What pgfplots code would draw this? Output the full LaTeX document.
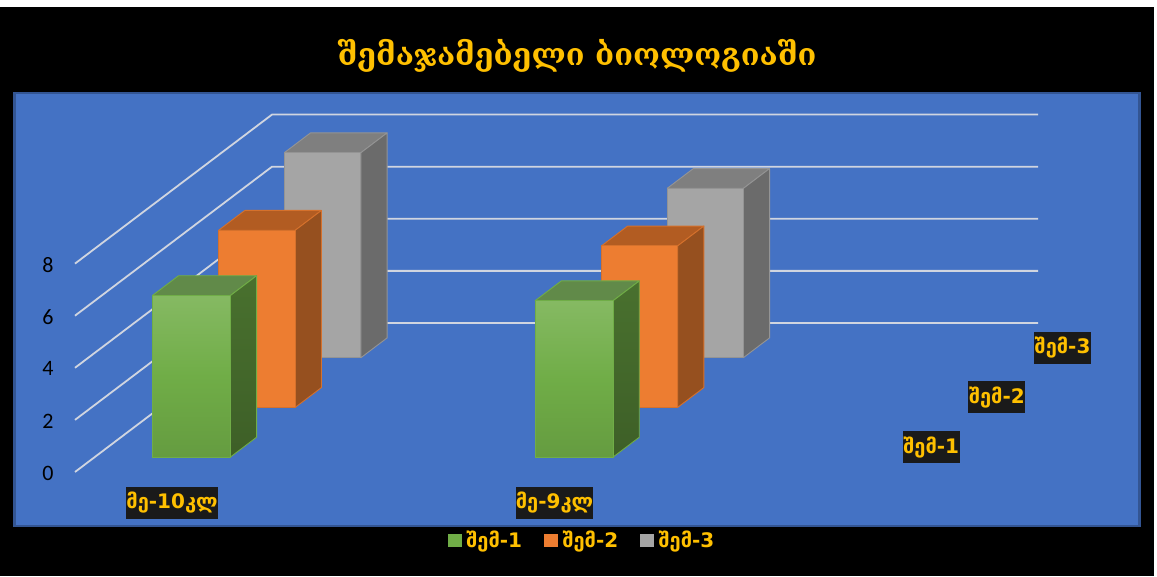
\documentclass[border=0pt]{standalone}
\usepackage{fontspec}
\usepackage{pgfplots}
\pgfplotsset{compat=1.18}
\setmainfont{Carlito}
\newfontfamily\geo{DejaVu Sans}[Script=Georgian]
\newfontfamily\geotitle{DejaVu Serif}[Script=Georgian]
\definecolor{plotblue}{HTML}{4472C4}
\definecolor{plotedge}{HTML}{335593}
\definecolor{labelgold}{HTML}{FFC000}
\definecolor{labelbox}{HTML}{1A1A1A}
\definecolor{gridgrey}{HTML}{D0D5E0}
\definecolor{greyfront}{HTML}{A5A5A5}
\definecolor{greyside}{HTML}{6B6B6B}
\definecolor{greytop}{HTML}{7F7F7F}
\definecolor{orangefront}{HTML}{ED7D31}
\definecolor{orangeside}{HTML}{96501F}
\definecolor{orangetop}{HTML}{B25C22}
\definecolor{greenedge}{HTML}{70AD47}
\definecolor{greentop}{HTML}{618A49}

% One column: top, side and front faces of a box over [xa,xb] x [ya,yb] x [0,v].
\newcommand{\column}[9]{%
  \addplot3[forget plot,mark=none,draw=#9,line width=0.9pt,line join=round,#8]
    coordinates {(#1,#3,#5) (#2,#3,#5) (#2,#4,#5) (#1,#4,#5) (#1,#3,#5)};
  \addplot3[forget plot,mark=none,draw=#9,line width=0.9pt,line join=round,#7]
    coordinates {(#2,#3,0) (#2,#4,0) (#2,#4,#5) (#2,#3,#5) (#2,#3,0)};
  \addplot3[forget plot,mark=none,draw=#9,line width=0.9pt,line join=round,#6]
    coordinates {(#1,#3,0) (#2,#3,0) (#2,#3,#5) (#1,#3,#5) (#1,#3,0)};
}
\newcommand{\gridline}[1]{%
  \addplot3[forget plot,mark=none,draw=gridgrey,line width=1.8pt]
    coordinates {(0,0,#1) (0,3,#1) (2,3,#1)};
}

\begin{document}
\begin{tikzpicture}
\fill[white] (0pt,0pt) rectangle (1157pt,576pt);
\fill[black] (0pt,0pt) rectangle (1154pt,569pt);
\fill[plotblue,draw=plotedge,line width=2.4pt] (14.5pt,50pt) rectangle (1139.5pt,483pt);
\node[text=labelgold,font=\geotitle\bfseries\fontsize{30.6}{34}\selectfont,inner sep=0pt]
  at (577pt,520pt) {შემაჯამებელი ბიოლოგიაში};
\begin{axis}[
  at={(75pt,104pt)},anchor=origin,
  x={(383pt,0pt)},y={(65.67pt,49.67pt)},z={(0pt,26.05pt)},
  xmin=0,xmax=2,ymin=0,ymax=3,zmin=0,zmax=8,
  clip=false,
  axis line style={draw=none},
  major tick length=0pt,
  tick style={draw=none},
  xtick={0.2533,1.2520},
  xticklabels={მე-10კლ,მე-9კლ},
  ytick={0.5,1.5,2.5},
  yticklabels={შემ-1,შემ-2,შემ-3},
  ztick={0,2,4,6,8},
  /pgf/number format/assume math mode=true,
  x tick label style={anchor=center,yshift=-31pt,text=labelgold,fill=labelbox,
    font=\geo\bfseries\fontsize{20}{22}\selectfont,inner sep=0pt,minimum height=32pt},
  y tick label style={anchor=center,xshift=57.4pt,text=labelgold,fill=labelbox,
    font=\geo\bfseries\fontsize{20}{22}\selectfont,inner sep=0pt,minimum height=32pt,minimum width=57pt},
  z tick label style={anchor=center,xshift=-27pt,yshift=-1pt,font=\fontsize{22}{24}\selectfont,text=black},
  legend columns=3,
  legend style={at={(axis cs:1.323,0,-2.61)},anchor=center,draw=none,fill=none,
    font=\geo\bfseries\fontsize{20}{22}\selectfont,text=labelgold,
    /tikz/every even column/.append style={column sep=19pt}},
  legend image code/.code={\fill[#1] (0pt,-7pt) rectangle (15pt,7pt);\path (17pt,0pt);},
]
% horizontal guides on the side and back walls
\gridline{0}\gridline{2}\gridline{4}\gridline{6}\gridline{8}

% third series, furthest back
\column{0.1520}{0.3520}{2.3}{2.7}{7.87}{fill=greyfront}{fill=greyside}{fill=greytop}{greyfront!90!black}
\column{1.1515}{1.3505}{2.3}{2.7}{6.5}{fill=greyfront}{fill=greyside}{fill=greytop}{greyfront!90!black}
% second series
\column{0.1520}{0.3520}{1.3}{1.7}{6.8}{fill=orangefront}{fill=orangeside}{fill=orangetop}{orangefront!90!black}
\column{1.1515}{1.3505}{1.3}{1.7}{6.2}{fill=orangefront}{fill=orangeside}{fill=orangetop}{orangefront!90!black}
% first series, nearest the viewer, with a vertical gradient on its faces
\column{0.1504}{0.3541}{0.3}{0.7}{6.2}{top color=greenedge!85!white,bottom color=greenedge!90!black,middle color=greenedge}{top color=greenedge!65!black,bottom color=greenedge!55!black}{fill=greentop}{greenedge}
\column{1.1496}{1.3533}{0.3}{0.7}{6.0}{top color=greenedge!85!white,bottom color=greenedge!90!black,middle color=greenedge}{top color=greenedge!65!black,bottom color=greenedge!55!black}{fill=greentop}{greenedge}

% legend entries
\addlegendimage{fill=greenedge}
\addlegendentry{შემ-1}
\addlegendimage{fill=orangefront}
\addlegendentry{შემ-2}
\addlegendimage{fill=greyfront}
\addlegendentry{შემ-3}
\end{axis}
\end{tikzpicture}
\end{document}
